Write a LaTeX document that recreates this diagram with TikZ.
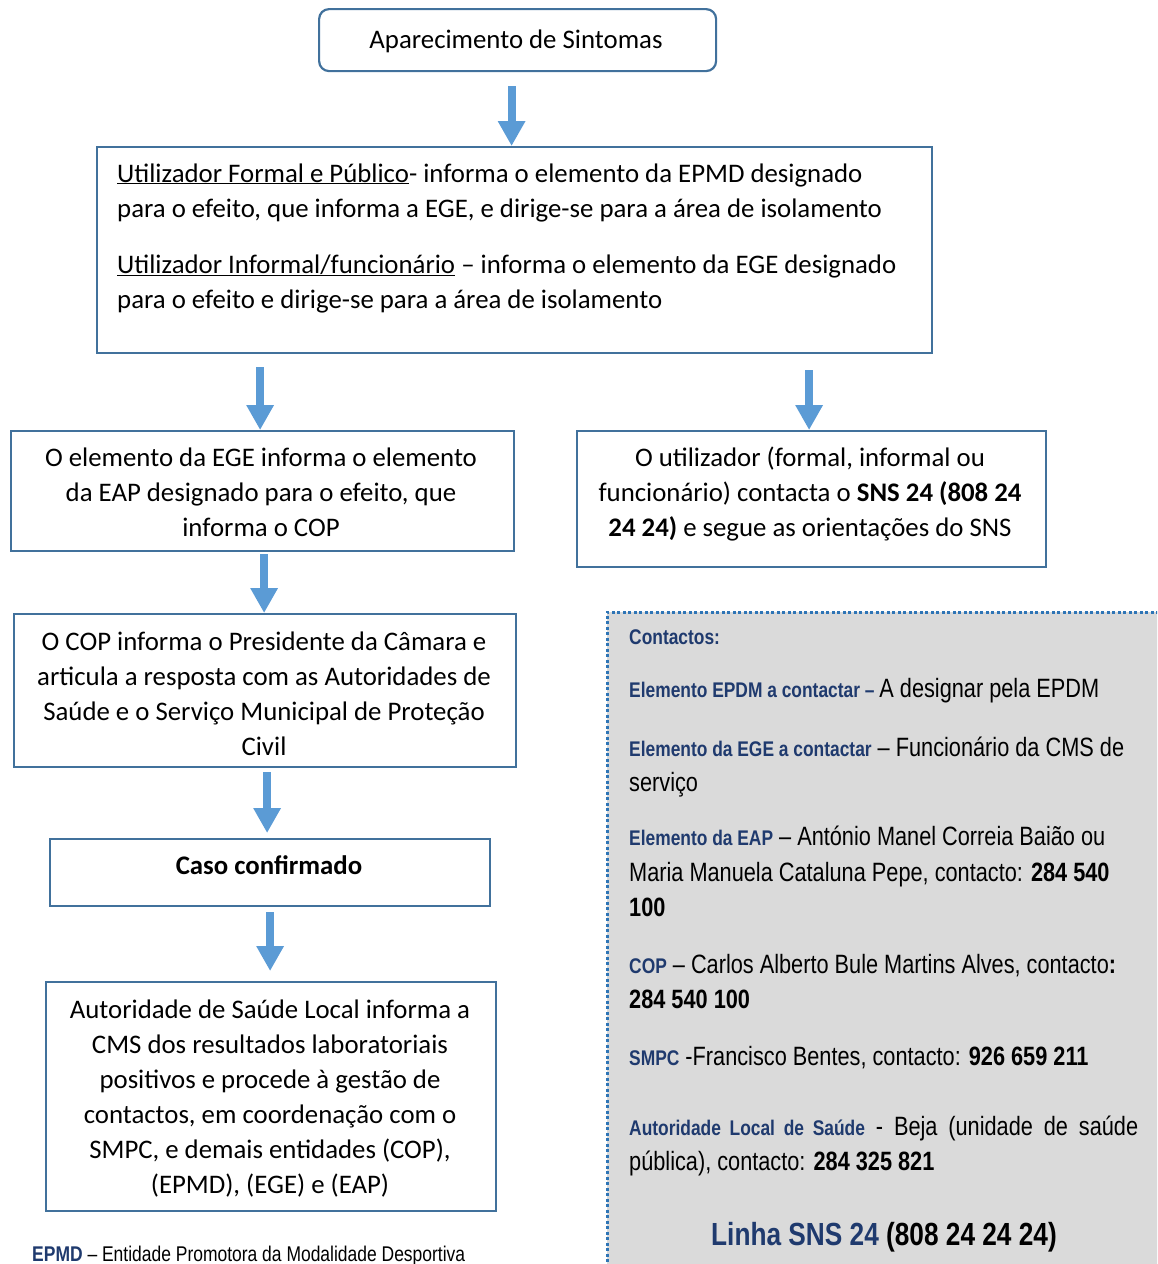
\documentclass[tikz,border=0pt]{standalone}
\usepackage{fontspec}
\setmainfont{Carlito}
\newfontfamily\narrowfont[FakeStretch=0.82]{Liberation Sans}
\usetikzlibrary{arrows.meta}
\definecolor{boxblue}{HTML}{41719C}
\definecolor{arrblue}{HTML}{5B9BD5}
\definecolor{lblblue}{HTML}{1F3A6E}
\definecolor{dotblue}{HTML}{2E75B6}
\definecolor{panelgray}{HTML}{DADADA}
\newcommand\lb[1]{{\fontsize{21.2}{22}\selectfont\bfseries\color{lblblue}#1}}
\begin{document}
\begin{tikzpicture}[x=1pt,y=-1pt,
  box/.style={draw=boxblue, line width=2.2pt, inner sep=0pt, anchor=north west},
  txt/.style={inner sep=0pt, align=center, font=\fontsize{26.8}{35}\selectfont, anchor=base},
  txtl/.style={inner sep=0pt, align=left, font=\fontsize{26.8}{35}\selectfont, anchor=base west},
  ctext/.style={inner sep=0pt, anchor=base west, font=\narrowfont\fontsize{26.5}{35}\selectfont},
  bigarrow/.style={draw=arrblue, line width=8pt, -{Triangle[width=26pt,length=25pt,fill=arrblue]}}]
\useasboundingbox (0,0) rectangle (1157,1264);

% contacts panel
\begin{scope}
\clip (0,0) rectangle (1157,1264);
\fill[panelgray] (607,612) rectangle (1170,1280);
\draw[dotblue, line width=3pt, dash pattern=on 3pt off 2.5pt] (1170,612) -- (607,612) -- (607,1280);
\end{scope}

% boxes
\node[box, rounded corners=10pt, minimum width=397pt, minimum height=62pt] (b1) at (318,8) {};
\node[box, minimum width=835pt, minimum height=206pt] (b2) at (96,146) {};
\node[box, minimum width=503pt, minimum height=120pt] (b3) at (10,430) {};
\node[box, minimum width=469pt, minimum height=136pt] (b4) at (576,430) {};
\node[box, minimum width=502pt, minimum height=153pt] (b5) at (13,613) {};
\node[box, minimum width=440pt, minimum height=67pt] (b6) at (49,838) {};
\node[box, minimum width=450pt, minimum height=229pt] (b7) at (45,981) {};

% texts (anchor base = baseline of the last line)
\node[txt] (t1) at (516,48) {Aparecimento de Sintomas};
\node[txtl] (t2a) at (117,217) {\underline{Utilizador Formal e Público}- informa o elemento da EPMD designado\\para o efeito, que informa a EGE, e dirige-se para a área de isolamento};
\node[txtl] (t2b) at (117,308) {\underline{Utilizador Informal/funcionário} – informa o elemento da EGE designado\\para o efeito e dirige-se para a área de isolamento};
\node[txt] (t3) at (261,536) {O elemento da EGE informa o elemento\\da EAP designado para o efeito, que\\informa o COP};
\node[txt] (t4) at (810,536) {O utilizador (formal, informal ou\\funcionário) contacta o \textbf{SNS 24 (808 24}\\\textbf{24 24)} e segue as orientações do SNS};
\node[txt] (t5) at (264,755) {O COP informa o Presidente da Câmara e\\articula a resposta com as Autoridades de\\Saúde e o Serviço Municipal de Proteção\\Civil};
\node[txt] (t6) at (269,874) {\textbf{Caso confirmado}};
\node[txt] (t7) at (270,1193) {Autoridade de Saúde Local informa a\\CMS dos resultados laboratoriais\\positivos e procede à gestão de\\contactos, em coordenação com o\\SMPC, e demais entidades (COP),\\(EPMD), (EGE) e (EAP)};

% arrows
\draw[bigarrow] ([xshift=-6pt,yshift=-14pt]b1.south) -- ([xshift=-6pt]b1.south |- b2.north);
\draw[bigarrow] ([xshift=-2.5pt,yshift=-13pt]b3.north |- b2.south) -- ([xshift=-2.5pt]b3.north);
\draw[bigarrow] ([xshift=-2.5pt,yshift=-16pt]b4.north |- b2.south) -- ([xshift=-2.5pt]b4.north);
\draw[bigarrow] ([xshift=1.5pt,yshift=-2pt]b3.south) -- ([xshift=1.5pt]b3.south |- b5.north);
\draw[bigarrow] ([xshift=2pt,yshift=-4pt]b5.south) -- ([xshift=2pt,yshift=5pt]b5.south |- b6.north);
\draw[bigarrow] ([yshift=-5pt]b6.south) -- ([yshift=10pt]b6.south |- b7.north);

% contacts
\node[ctext] (c0) at (629,644) {\lb{Contactos:}};
\node[ctext] (c1) at (629,697) {\lb{Elemento EPDM a contactar – }A designar pela EPDM};
\node[ctext] (c2) at (629,756) {\lb{Elemento da EGE a contactar} – Funcionário da CMS de};
\node[ctext] (c2b) at (629,791) {serviço};
\node[ctext] (c3) at (629,845) {\lb{Elemento da EAP} – António Manel Correia Baião ou};
\node[ctext] (c3b) at (629,881) {Maria Manuela Cataluna Pepe, contacto: \textbf{284 540}};
\node[ctext] (c3c) at (629,916) {\textbf{100}};
\node[ctext] (c4) at (629,973) {\lb{COP} – Carlos Alberto Bule Martins Alves, contacto\textbf{:}};
\node[ctext] (c4b) at (629,1008) {\textbf{284 540 100}};
\node[ctext] (c5) at (629,1065) {\lb{SMPC} -Francisco Bentes, contacto: \textbf{926 659 211}};
\node[ctext] (c6) at (629,1135) {\makebox[509pt][s]{\lb{Autoridade Local de Saúde} - Beja (unidade de saúde}};
\node[ctext] (c6b) at (629,1170) {pública), contacto: \textbf{284 325 821}};
\node[inner sep=0pt, anchor=base, font=\narrowfont\bfseries\fontsize{32}{35}\selectfont] (c7) at (884,1245) {\textcolor{lblblue}{Linha SNS 24} (808 24 24 24)};

% footnote
\node[inner sep=0pt, anchor=base west, font=\narrowfont\fontsize{21.3}{24}\selectfont] (fn) at (32,1261) {\textbf{\color{lblblue}EPMD} – Entidade Promotora da Modalidade Desportiva};
\end{tikzpicture}
\end{document}
